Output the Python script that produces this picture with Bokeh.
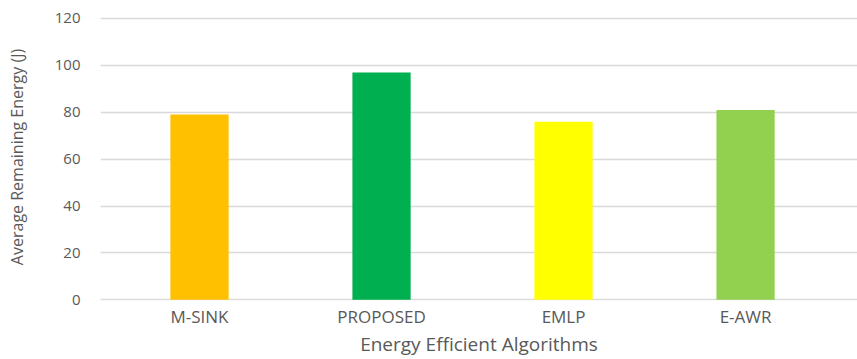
from bokeh.plotting import figure
from bokeh.models import ColumnDataSource, Range1d, FixedTicker
from bokeh.embed import file_html
from bokeh.resources import INLINE

# Average remaining energy per algorithm
algorithms = ["M-SINK", "PROPOSED", "EMLP", "E-AWR"]
remaining_energy = [79, 97, 76, 81]
bar_colors = ["#FFC000", "#00B050", "#FFFF00", "#92D050"]
y_ticks = [0, 20, 40, 60, 80, 100, 120]

FONT = "Open Sans"
TEXT = "#595959"

positions = list(range(len(algorithms)))
source = ColumnDataSource(dict(x=positions, top=remaining_energy, color=bar_colors))

p = figure(
    width=857, height=359,
    output_backend="svg", toolbar_location=None,
    x_range=Range1d(-0.544, 3.615),
    y_range=Range1d(-0.3, 122.13),
    min_border_left=100, min_border_right=0,
    min_border_top=13, min_border_bottom=58,
)
p.outline_line_color = None
p.background_fill_color = "white"
p.border_fill_color = "white"

p.vbar(x="x", top="top", width=0.32, bottom=0, fill_color="color",
       line_color=None, source=source)

# x axis: category names at bar positions
p.xaxis.ticker = FixedTicker(ticks=positions)
p.xaxis.major_label_overrides = {i: name for i, name in enumerate(algorithms)}
p.xaxis.axis_label = "Energy Efficient Algorithms"
p.xaxis.axis_label_text_font = FONT
p.xaxis.axis_label_text_font_size = "19px"
p.xaxis.axis_label_text_font_style = "normal"
p.xaxis.axis_label_text_color = TEXT
p.xaxis.axis_label_standoff = 0
p.xaxis.major_label_text_font = FONT
p.xaxis.major_label_text_font_size = "17px"
p.xaxis.major_label_text_color = TEXT
p.xaxis.major_label_standoff = 4

# y axis
p.yaxis.ticker = FixedTicker(ticks=y_ticks)
p.yaxis.axis_label = "Average Remaining Energy (J)"
p.yaxis.axis_label_text_font = FONT
p.yaxis.axis_label_text_font_size = "16px"
p.yaxis.axis_label_text_font_style = "normal"
p.yaxis.axis_label_text_color = TEXT
p.yaxis.axis_label_standoff = 24
p.yaxis.major_label_text_font = FONT
p.yaxis.major_label_text_font_size = "15px"
p.yaxis.major_label_text_color = TEXT
p.yaxis.major_label_standoff = 20

for ax in (p.xaxis, p.yaxis):
    ax.axis_line_color = None
    ax.major_tick_line_color = None
    ax.minor_tick_line_color = None
    ax.major_tick_out = 0
    ax.major_tick_in = 0
    ax.minor_tick_out = 0
    ax.minor_tick_in = 0

p.xgrid.grid_line_color = None
p.ygrid.grid_line_color = "#D9D9D9"
p.ygrid.grid_line_width = 1.5

open("out.html", "w").write(file_html(p, INLINE))
